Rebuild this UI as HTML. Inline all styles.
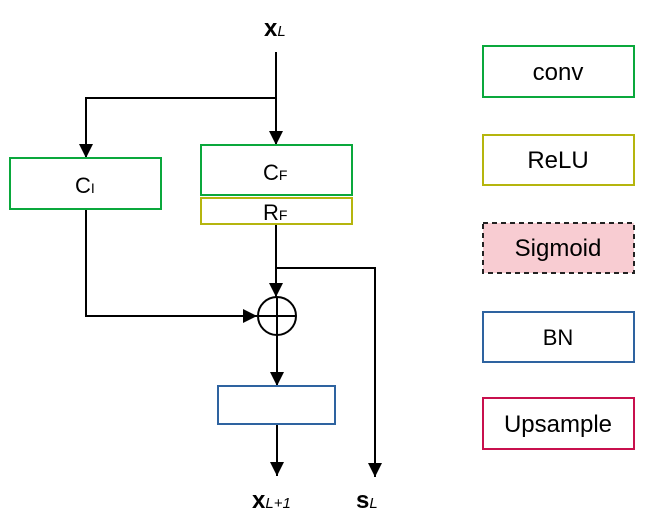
<!DOCTYPE html>
<html><head><style>body{margin:0;background:#fff}svg{display:block}</style></head><body>
<svg width="651" height="524" viewBox="0 0 651 524" xmlns="http://www.w3.org/2000/svg" font-family="Liberation Sans, sans-serif">
<defs>
<marker id="b" viewBox="0 0 14 14" markerWidth="14" markerHeight="14" refX="14" refY="7" orient="auto" markerUnits="userSpaceOnUse"><path d="M0,0 L14,7 L0,14 Z" fill="#000"/></marker></defs>
<g stroke="#000" stroke-width="2" fill="none">
<line x1="276" y1="52" x2="276" y2="145" marker-end="url(#b)"/>
<polyline points="276,98 86,98 86,158" marker-end="url(#b)"/>
<line x1="276" y1="224" x2="276" y2="297" marker-end="url(#b)"/>
<polyline points="276,268 375,268 375,477" marker-end="url(#b)"/>
<polyline points="86,209 86,316 257,316" marker-end="url(#b)"/>
<circle cx="277" cy="316" r="19"/>
<line x1="277" y1="297" x2="277" y2="335"/>
<line x1="258" y1="316" x2="296" y2="316"/>
<line x1="277" y1="335" x2="277" y2="386" marker-end="url(#b)"/>
<line x1="277" y1="424" x2="277" y2="476" marker-end="url(#b)"/>
</g>
<rect x="10" y="158" width="151" height="51" fill="#fff" stroke="#0aa83c" stroke-width="2"/>
<rect x="201" y="145" width="151" height="50" fill="#fff" stroke="#0aa83c" stroke-width="2"/>
<rect x="201" y="198" width="151" height="26" fill="#fff" stroke="#b5b50e" stroke-width="2"/>
<rect x="218" y="386" width="117" height="38" fill="#fff" stroke="#2e63a0" stroke-width="2"/>
<text x="75" y="193" font-size="22">C<tspan font-size="14">I</tspan></text>
<text x="263" y="180" font-size="22">C<tspan font-size="14">F</tspan></text>
<text x="263" y="220" font-size="22">R<tspan font-size="14">F</tspan></text>
<text x="264" y="36" font-size="24" font-weight="bold">x<tspan font-size="15" font-style="italic" font-weight="normal">L</tspan></text>
<text x="252" y="508" font-size="24" font-weight="bold">x<tspan font-size="15" font-style="italic" font-weight="normal">L+1</tspan></text>
<text x="356" y="508" font-size="24" font-weight="bold">s<tspan font-size="15" font-style="italic" font-weight="normal">L</tspan></text>
<g stroke-width="2">
<rect x="483" y="46" width="151" height="51" fill="#fff" stroke="#0aa83c"/>
<rect x="483" y="135" width="151" height="50" fill="#fff" stroke="#b5b50e"/>
<rect x="483" y="223" width="151" height="50" fill="#f8ccd2" stroke="#222" stroke-dasharray="5,4"/>
<rect x="483" y="312" width="151" height="50" fill="#fff" stroke="#2e63a0"/>
<rect x="483" y="398" width="151" height="51" fill="#fff" stroke="#c8104d"/>
</g>
<g font-size="24" text-anchor="middle" fill="#000">
<text x="558" y="80">conv</text>
<text x="558" y="168">ReLU</text>
<text x="558" y="256">Sigmoid</text>
<text x="558" y="345" font-size="22">BN</text>
<text x="558" y="432">Upsample</text>
</g>
</svg>
</body></html>
